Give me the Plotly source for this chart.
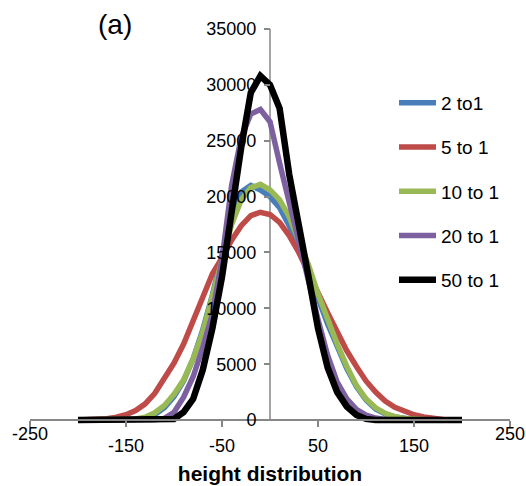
import plotly.graph_objects as go

x_vals = list(range(-200, 201, 10))

series_names = ["2 to1", "5 to 1", "10 to 1", "20 to 1", "50 to 1"]
series_colors = ["#4A7EBB", "#BE4B48", "#98B954", "#7D60A0", "#000000"]
series_widths = [5.5, 5.5, 5.5, 5.5, 6.5]

blue_2to1 = [0, 0, 0, 0, 5, 20, 60, 160, 500, 1100, 2100, 3500, 5500, 8100, 11200, 14800,
             18200, 20400, 21000, 20600, 20000, 19000, 17400, 15400, 13300, 10900, 8600,
             6500, 4600, 3000, 1800, 1000, 550, 270, 120, 50, 20, 5, 0, 0, 0]
red_5to1 = [0, 15, 50, 120, 250, 480, 850, 1450, 2400, 3700, 5100, 6800, 8900, 11300, 13100,
            14500, 16100, 17400, 18300, 18600, 18400, 17700, 16500, 15000, 13300, 11400,
            9600, 7800, 6200, 4800, 3500, 2500, 1700, 1150, 750, 480, 280, 150, 60, 15, 0]
green_10to1 = [0, 0, 0, 0, 10, 30, 90, 250, 650, 1300, 2300, 3600, 5500, 7900, 10900, 14300,
               17500, 19700, 20800, 21100, 20600, 19700, 18200, 16200, 13900, 11300, 9000,
               6800, 4800, 3100, 1900, 1100, 600, 300, 140, 60, 25, 10, 0, 0, 0]
purple_20to1 = [0, 0, 0, 0, 0, 0, 0, 0, 30, 150, 700, 2050, 3900, 6500, 9500, 14400,
                21000, 25300, 27400, 27800, 26700, 23000, 19400, 16000, 12700, 9000, 5800,
                3400, 1900, 950, 450, 180, 60, 15, 0, 0, 0, 0, 0, 0, 0]
black_50to1 = [0, 0, 0, 0, 0, 0, 0, 0, 0, 0, 100, 700, 1900, 4500, 8200, 12800,
               18800, 24400, 29300, 30800, 30000, 27900, 22000, 17800, 12900, 8200, 4700,
               2500, 1200, 450, 100, 0, 0, 0, 0, 0, 0, 0, 0, 0, 0]
all_series = [blue_2to1, red_5to1, green_10to1, purple_20to1, black_50to1]

x_tick_vals = [-250, -150, -50, 50, 150, 250]
x_tick_text = ["", "-150", "-50", "50", "150", ""]
x_edge_labels = [(-250, "-250"), (250, "250")]
y_tick_vals = [0, 5000, 10000, 15000, 20000, 25000, 30000, 35000]

FONT = "Liberation Sans, Arial, Helvetica, sans-serif"
AXIS_GRAY = "#878787"
Y_MIN = -800
Y_MAX = 35000

fig = go.Figure()
for i, (name, ys) in enumerate(zip(series_names, all_series)):
    fig.add_trace(go.Scatter(
        x=x_vals, y=ys, mode="lines", name=name,
        line=dict(color=series_colors[i], width=series_widths[i]),
        legendgroup=name,
    ))

# y-axis line only from 0 to top
fig.add_shape(type="line", xref="x", yref="y", x0=0, x1=0, y0=0, y1=Y_MAX,
              line=dict(color=AXIS_GRAY, width=1.5), layer="below")

for xv, txt in x_edge_labels:
    fig.add_annotation(x=xv, xref="x", y=0, yref="y", yshift=-14, text=txt,
                       showarrow=False, font=dict(size=18, color="black", family=FONT),
                       xanchor="center", yanchor="middle")

fig.add_annotation(x=(115 - 30) / 480, xref="paper", y=(429 - 24) / 400, yref="paper",
                   text="(a)", showarrow=False, font=dict(size=28, color="black", family=FONT),
                   xanchor="center", yanchor="middle")

fig.update_layout(
    width=526, height=486,
    margin=dict(l=30, r=16, t=29, b=57, pad=0, autoexpand=False),
    plot_bgcolor="white", paper_bgcolor="white",
    font=dict(family=FONT, size=18, color="black"),
    showlegend=True,
    legend=dict(x=(394 - 30) / 480, xanchor="left", y=(429 - 84) / 400, yanchor="top",
                font=dict(size=19, color="black", family=FONT),
                tracegroupgap=16.5, itemwidth=37, bgcolor="rgba(0,0,0,0)"),
    xaxis=dict(range=[-250, 250], tickvals=x_tick_vals, ticktext=x_tick_text,
               showgrid=False, zeroline=False, showline=True, linecolor=AXIS_GRAY, linewidth=1.5,
               ticks="outside", ticklen=6, tickcolor=AXIS_GRAY, tickwidth=1.5,
               anchor="free", position=(0 - Y_MIN) / (Y_MAX - Y_MIN),
               ticklabelstandoff=4, automargin=False,
               tickfont=dict(size=18, color="black", family=FONT),
               title=dict(text="<b>height distribution</b>", standoff=10,
                          font=dict(size=21, color="black", family=FONT))),
    yaxis=dict(range=[Y_MIN, Y_MAX], tickvals=y_tick_vals, tickformat="d",
               showgrid=False, zeroline=False, showline=False,
               ticks="outside", ticklen=6, tickcolor=AXIS_GRAY, tickwidth=1.5,
               anchor="free", position=0.5, ticklabelstandoff=4, automargin=False,
               tickfont=dict(size=18, color="black", family=FONT)),
)

fig.write_html("out.html")
